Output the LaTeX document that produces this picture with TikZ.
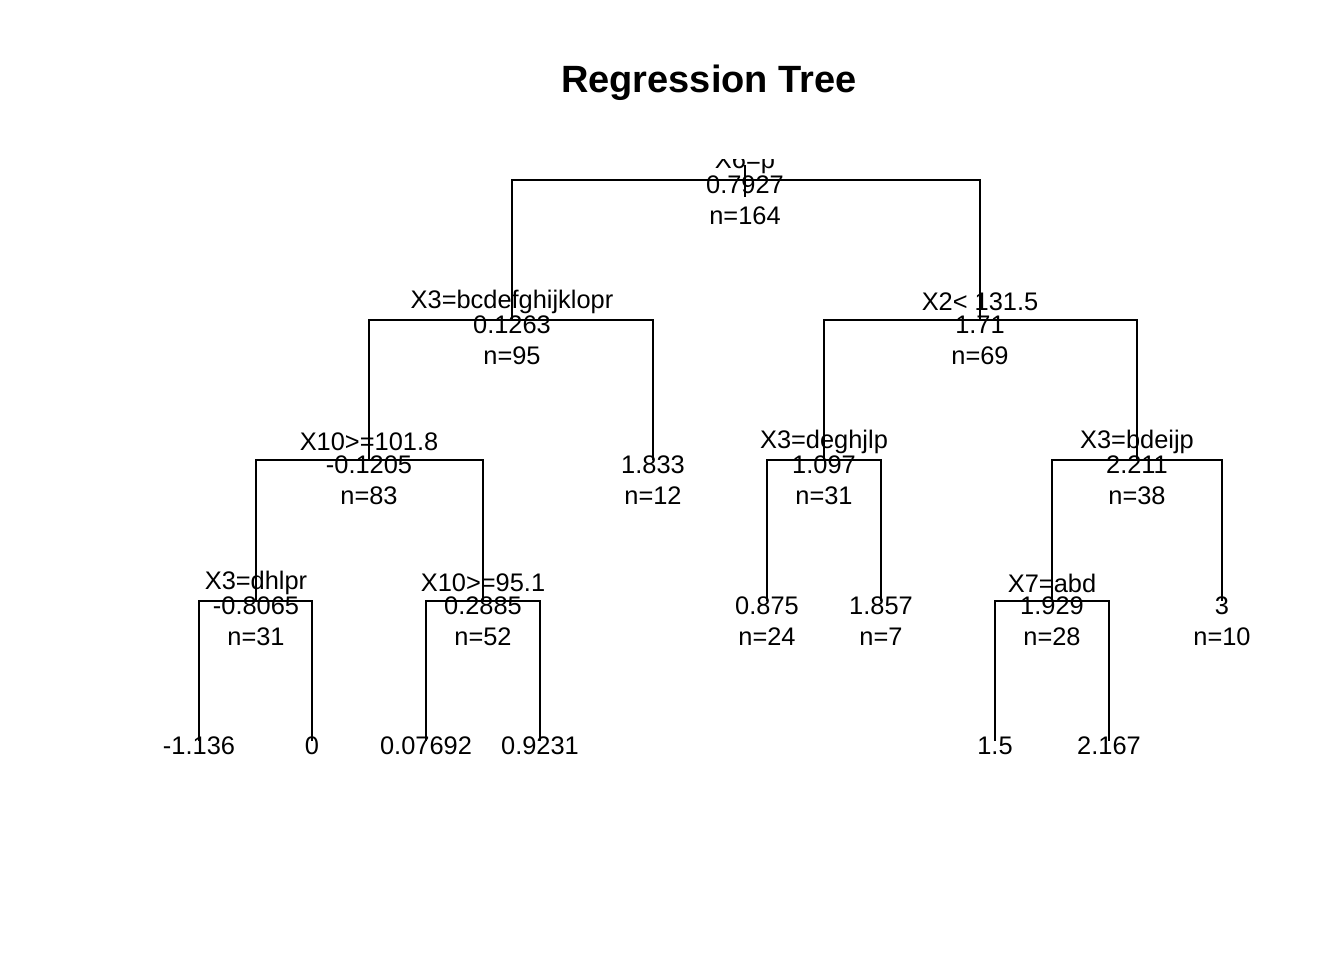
\documentclass[tikz,border=0pt]{standalone}
\usepackage{fontspec}
\setmainfont{Liberation Sans}
\begin{document}
\begin{tikzpicture}[x=1pt,y=-1pt,
  br/.style={line width=1.7pt, line join=miter, line cap=butt},
  txt/.style={inner sep=0pt, outer sep=0pt, font=\fontsize{25.4}{30}\selectfont},
  lab/.style={txt, yshift=18pt},
  val/.style={txt, yshift=-5pt},
  cnt/.style={txt, yshift=-35.5pt},
  ttl/.style={inner sep=0pt, font=\fontsize{38}{44}\selectfont\bfseries}]
\useasboundingbox (0,0) rectangle (1344,960);
\node[ttl] (title) at (709,82.5) {Regression Tree};
% tree node positions
\coordinate (r) at (745,180);
\coordinate (a) at (512,320);
\coordinate (b) at (980,320);
\coordinate (c) at (369,460);
\coordinate (d) at (653,460);
\coordinate (e) at (824,460);
\coordinate (f) at (1137,460);
\coordinate (g) at (256,601);
\coordinate (h) at (483,601);
\coordinate (i) at (767,601);
\coordinate (j) at (881,601);
\coordinate (k) at (1052,601);
\coordinate (l) at (1222,601);
\coordinate (m) at (199,741);
\coordinate (o) at (312,741);
\coordinate (p) at (426,741);
\coordinate (q) at (540,741);
\coordinate (s) at (995,741);
\coordinate (t) at (1109,741);
% branches
\draw[br] (a) -- (a|-r) -- (b|-r) -- (b);
\draw[br] ([yshift=15pt]r) -- ([yshift=-17pt]r);
\draw[br] (c) -- (c|-a) -- (d|-a) -- (d);
\draw[br] (e) -- (e|-b) -- (f|-b) -- (f);
\draw[br] (g) -- (g|-c) -- (h|-c) -- (h);
\draw[br] (i) -- (i|-e) -- (j|-e) -- (j);
\draw[br] (k) -- (k|-f) -- (l|-f) -- (l);
\draw[br] (m) -- (m|-g) -- (o|-g) -- (o);
\draw[br] (p) -- (p|-h) -- (q|-h) -- (q);
\draw[br] (s) -- (s|-k) -- (t|-k) -- (t);
% labels
\begin{scope}
\clip (0,160) rectangle (1344,960);
\node[lab] (rl) at (r) {X6=p};
\node[val] (rv) at (r) {0.7927};
\node[cnt] (rn) at (r) {n=164};
\node[lab] (al) at (a) {X3=bcdefghijklopr};
\node[val] (av) at (a) {0.1263};
\node[cnt] (an) at (a) {n=95};
\node[lab] (bl) at (b) {X2< 131.5};
\node[val] (bv) at (b) {1.71};
\node[cnt] (bn) at (b) {n=69};
\node[lab] (cl) at (c) {X10>=101.8};
\node[val] (cv) at (c) {-0.1205};
\node[cnt] (cn) at (c) {n=83};
\node[val] (dv) at (d) {1.833};
\node[cnt] (dn) at (d) {n=12};
\node[lab] (el) at (e) {X3=deghjlp};
\node[val] (ev) at (e) {1.097};
\node[cnt] (en) at (e) {n=31};
\node[lab] (fl) at (f) {X3=bdeijp};
\node[val] (fv) at (f) {2.211};
\node[cnt] (fn) at (f) {n=38};
\node[lab] (gl) at (g) {X3=dhlpr};
\node[val] (gv) at (g) {-0.8065};
\node[cnt] (gn) at (g) {n=31};
\node[lab] (hl) at (h) {X10>=95.1};
\node[val] (hv) at (h) {0.2885};
\node[cnt] (hn) at (h) {n=52};
\node[val] (iv) at (i) {0.875};
\node[cnt] (in) at (i) {n=24};
\node[val] (jv) at (j) {1.857};
\node[cnt] (jn) at (j) {n=7};
\node[lab] (kl) at (k) {X7=abd};
\node[val] (kv) at (k) {1.929};
\node[cnt] (kn) at (k) {n=28};
\node[val] (lv) at (l) {3};
\node[cnt] (ln) at (l) {n=10};
\node[val] (mv) at (m) {-1.136};
\node[val] (ov) at (o) {0};
\node[val] (pv) at (p) {0.07692};
\node[val] (qv) at (q) {0.9231};
\node[val] (sv) at (s) {1.5};
\node[val] (tv) at (t) {2.167};
\end{scope}
\end{tikzpicture}
\end{document}
